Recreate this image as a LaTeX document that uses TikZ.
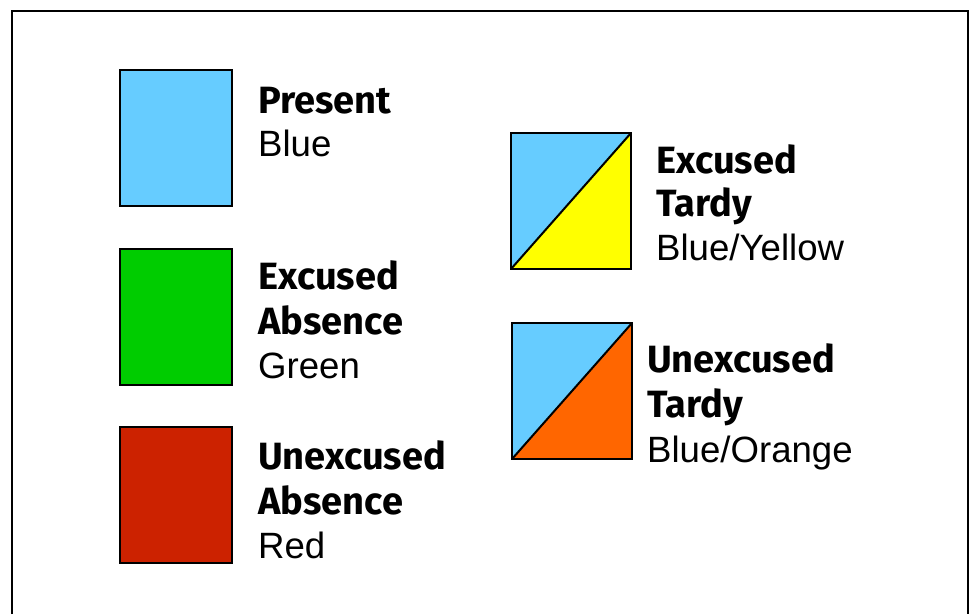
\documentclass[tikz,border=0pt]{standalone}
\usepackage{fontspec}
\setmainfont{Liberation Sans}
\newfontfamily\headfont{Fira Sans}[UprightFont={* Bold}]
\definecolor{cblue}{HTML}{66CCFF}
\definecolor{cgreen}{HTML}{00CC00}
\definecolor{cred}{HTML}{CC2200}
\definecolor{cyellow}{HTML}{FFFF00}
\definecolor{corange}{HTML}{FF6600}
\tikzset{
  swatch/.style={draw=black, line width=2pt},
  head/.style={anchor=base west, inner sep=0pt, font=\headfont\fontsize{38}{45}\selectfont},
  sub/.style={anchor=base west, inner sep=0pt, font=\fontsize{36.6}{43}\selectfont},
}
\begin{document}
\begin{tikzpicture}[x=1pt,y=1pt]
\useasboundingbox (0,0) rectangle (979,614);
\draw[line width=2pt] (12,0) -- (12,603) -- (968,603) -- (968,0);
% left swatches
\draw[swatch, fill=cblue] (120,408) rectangle (232,544);
\draw[swatch, fill=cgreen] (120,229) rectangle (232,365);
\draw[swatch, fill=cred] (120,51) rectangle (232,187);
% excused tardy
\fill[cblue] (511,345) rectangle (631,481);
\fill[cyellow] (511,345) -- (631,345) -- (631,481) -- cycle;
\draw[line width=2pt] (511,345) -- (631,481);
\draw[swatch] (511,345) rectangle (631,481);
% unexcused tardy
\fill[cblue] (512,155) rectangle (632,291);
\fill[corange] (512,155) -- (632,155) -- (632,291) -- cycle;
\draw[line width=2pt] (512,155) -- (632,291);
\draw[swatch] (512,155) rectangle (632,291);
% labels left
\node[head] (p1) at (258,500) {Present};
\node[sub] (p2) at (258,457) {Blue};
\node[head] (e1) at (258,325) {Excused};
\node[head] (e2) at (258,280) {Absence};
\node[sub] (e3) at (258,236) {Green};
\node[head] (u1) at (258,145) {Unexcused};
\node[head] (u2) at (258,100) {Absence};
\node[sub] (u3) at (258,56) {Red};
% labels right
\node[head] (t1) at (656,440) {Excused};
\node[head] (t2) at (656,397) {Tardy};
\node[sub] (t3) at (656,354) {Blue/Yellow};
\node[head] (o1) at (647,242) {Unexcused};
\node[head] (o2) at (647,197) {Tardy};
\node[sub] (o3) at (647,152) {Blue/Orange};
\end{tikzpicture}
\end{document}
